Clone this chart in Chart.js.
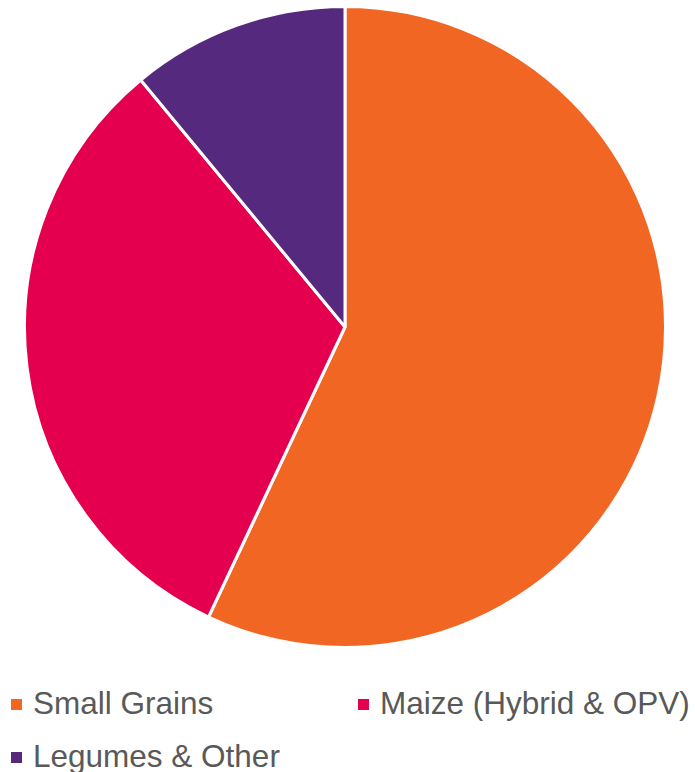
<!DOCTYPE html>
<html>
<head>
<meta charset="utf-8">
<script src="https://cdn.jsdelivr.net/npm/chart.js@4"></script>
<style>
  html, body { margin: 0; padding: 0; background: #fff; }
  body { width: 695px; height: 772px; position: relative; overflow: hidden; font-family: "Liberation Sans", Arial, sans-serif; }
  #pieWrap { position: absolute; left: 23px; top: 5px; width: 644px; height: 644px; }
  #legend { position: absolute; left: 0; top: 685px; width: 695px; }
  .item { position: absolute; font-size: 31.5px; color: #595959; white-space: nowrap; line-height: 36px; }
  .item i { position: absolute; left: -22px; top: 14px; width: 11px; height: 11px; }
</style>
</head>
<body>
<div id="pieWrap"><canvas id="cropChart"></canvas></div>
<div id="legend"></div>
<script>
const categories = ['Small Grains', 'Maize (Hybrid & OPV)', 'Legumes & Other'];
const shares = [57, 32, 11];
const colours = ['#f26624', '#e4004f', '#552a7e'];

// legend slots (left edge of text, top of row)
const legendSlots = [[33, 0], [380, 0], [33, 53]];

document.addEventListener('DOMContentLoaded', () => {
    const ctx = document.getElementById('cropChart');
    const chart = new Chart(ctx, {
        type: 'pie',
        data: {
            labels: categories,
            datasets: [{
                data: shares,
                backgroundColor: colours,
                borderColor: '#ffffff',
                borderWidth: 3
            }]
        },
        options: {
            responsive: true,
            maintainAspectRatio: false,
            animation: false,
            plugins: {
                legend: { display: false },
                tooltip: { enabled: false }
            }
        }
    });

    const legend = document.getElementById('legend');
    chart.data.labels.forEach((label, i) => {
        const el = document.createElement('div');
        el.className = 'item';
        el.style.left = legendSlots[i][0] + 'px';
        el.style.top = legendSlots[i][1] + 'px';
        el.innerHTML = '<i style="background:' + colours[i] + '"></i>';
        el.appendChild(document.createTextNode(label));
        legend.appendChild(el);
    });
});
</script>
</body>
</html>
